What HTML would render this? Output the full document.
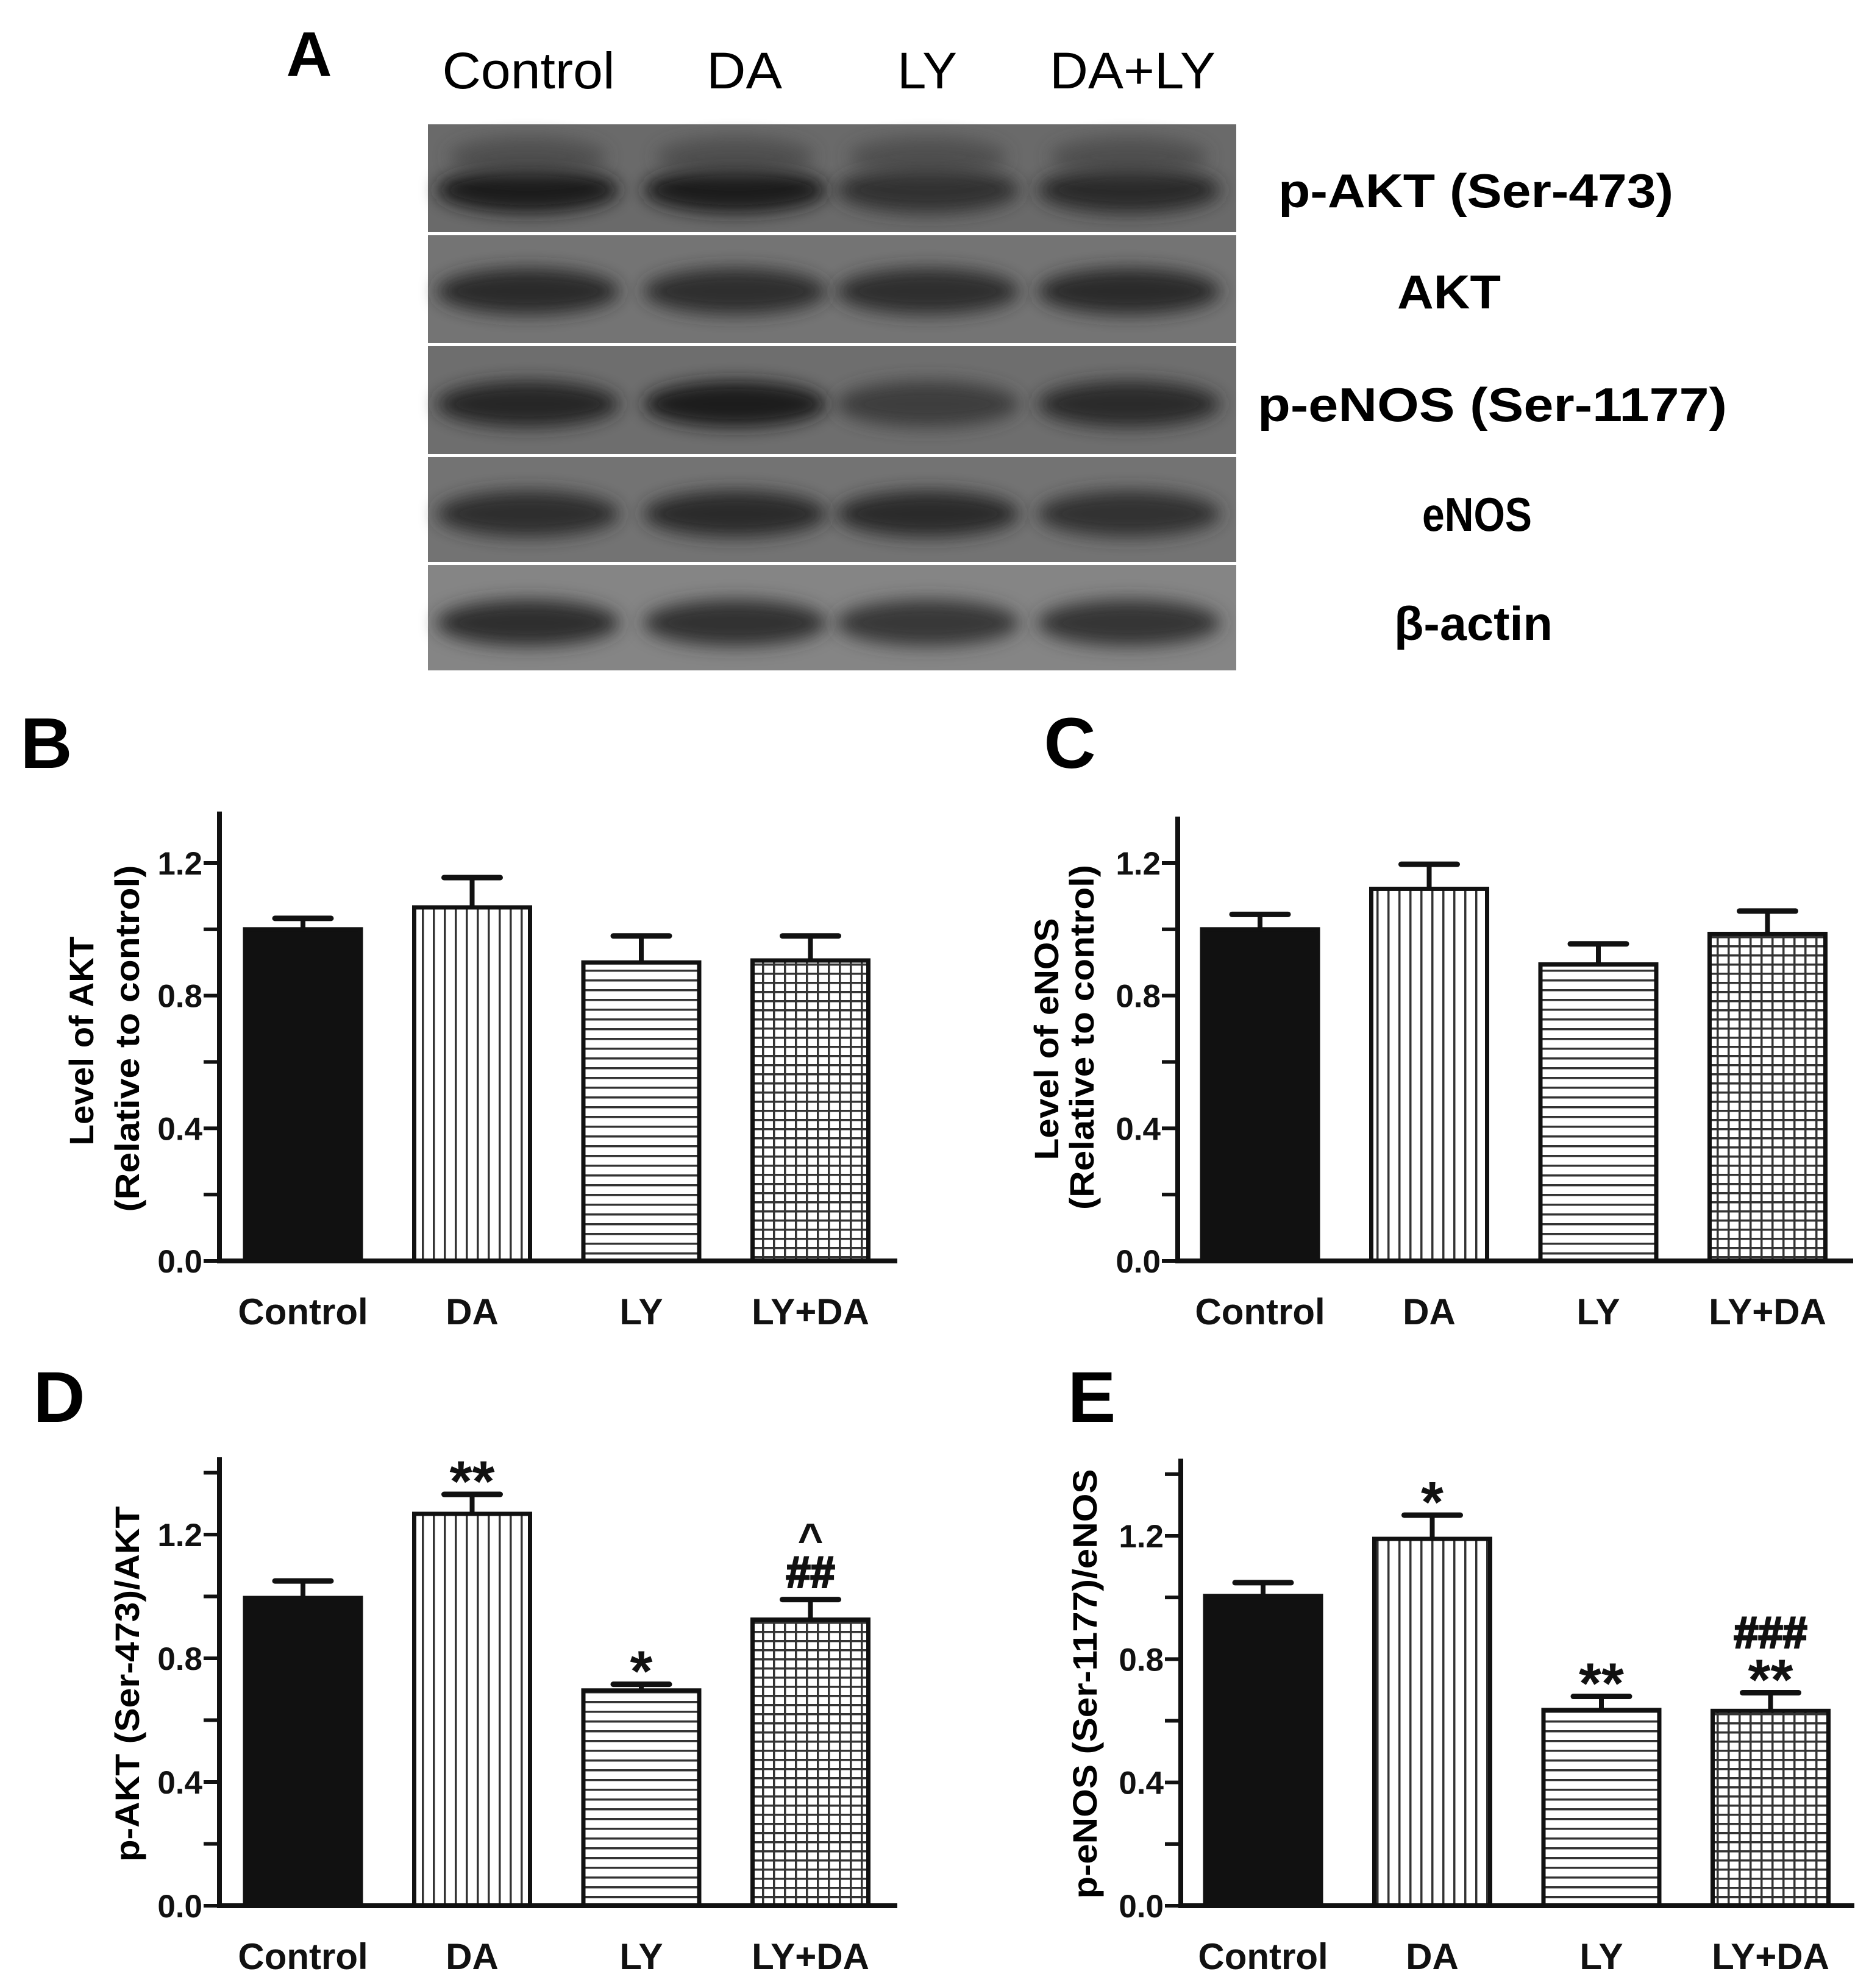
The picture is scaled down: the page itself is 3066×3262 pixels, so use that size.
<!DOCTYPE html>
<html><head><meta charset="utf-8"><style>
html,body{margin:0;padding:0;background:#fff;}
svg{display:block;}
text{font-family:"Liberation Sans",Arial,sans-serif;}
</style></head><body>
<svg id="fig" xmlns="http://www.w3.org/2000/svg" width="3066" height="3262" viewBox="0 0 3066 3262">
<defs>
<filter id="blur" x="-30%" y="-60%" width="160%" height="220%"><feGaussianBlur stdDeviation="14"/></filter>
<pattern id="vert" patternUnits="userSpaceOnUse" width="18" height="18"><rect width="18" height="18" fill="#fff"/><rect x="8" width="3.5" height="18" fill="#333"/></pattern>
<pattern id="horiz" patternUnits="userSpaceOnUse" width="16" height="16"><rect width="16" height="16" fill="#fff"/><rect y="7" width="16" height="3.5" fill="#333"/></pattern>
<pattern id="grid" patternUnits="userSpaceOnUse" width="18" height="15"><rect width="18" height="15" fill="#fff"/><rect x="8" width="3.5" height="15" fill="#333"/><rect y="6" width="18" height="3.5" fill="#333"/></pattern>
</defs>
<g id="blot"></g>
<g id="charts"></g>
</svg>
<script>
const categories = ['Control','DA','LY','LY+DA'];
const aktVals = [1.0, 1.066, 0.90, 0.906];
const aktErr = [0.033, 0.09, 0.08, 0.074];
const enosVals = [1.0, 1.122, 0.894, 0.986];
const enosErr = [0.045, 0.074, 0.062, 0.069];
const paktVals = [0.995, 1.267, 0.696, 0.925];
const paktErr = [0.055, 0.063, 0.02, 0.065];
const penosVals = [1.005, 1.19, 0.635, 0.632];
const penosErr = [0.043, 0.077, 0.044, 0.059];
const paktAnn = [[], ['**'], ['*'], ['##','^']];
const penosAnn = [[], ['*'], ['**'], ['**','###']];
const tickLabels = ['0.0','0.4','0.8','1.2'];
const tickValues = [0, 0.4, 0.8, 1.2];
const blotLanes = ['Control','DA','LY','DA+LY'];
const blotRows = ['p-AKT (Ser-473)','AKT','p-eNOS (Ser-1177)','eNOS','β-actin'];

const NS='http://www.w3.org/2000/svg';
const svg=document.getElementById('fig');
function mk(tag, attrs, parent){const e=document.createElementNS(NS,tag);for(const k in attrs)e.setAttribute(k,attrs[k]);(parent||svg).appendChild(e);return e;}

const blot=document.getElementById('blot');
const t=mk('text',{x:507,y:125,'font-size':104,'font-weight':'bold','text-anchor':'middle'},blot);t.textContent='A';


const laneX=[866,1206,1522,1852];
const laneLblX=[867,1221,1521,1858];
const laneLblW=[283,124,98,272];
blotLanes.forEach((l,i)=>{const e=mk('text',{x:laneLblX[i],y:145,'font-size':84,'text-anchor':'middle',textLength:laneLblW[i],lengthAdjust:'spacingAndGlyphs'},blot);e.textContent=l;

});
const strips=[[204,381],[386,563],[568,745],[750,922],[927,1100]];
const stripBg=['#6a6a6a','#747474','#6e6e6e','#737373','#858585'];
const bandY=[312,478,663,843,1022];
const bandDark=[['#1e1e1e','#1c1c1c','#333','#2a2a2a'],['#2a2a2a','#2e2e2e','#2e2e2e','#2c2c2c'],['#252525','#1e1e1e','#3c3c3c','#2a2a2a'],['#2e2e2e','#2a2a2a','#2a2a2a','#333'],['#2e2e2e','#333','#383838','#363636']];
const rowLblX=[2421,2377,2448,2423,2417];
const rowLblW=[648,170,770,180,260];
strips.forEach((s,r)=>{
  const g=mk('g',{},blot);
  
  
  mk('rect',{x:702,y:s[0],width:1326,height:s[1]-s[0],fill:stripBg[r]},g);
  laneX.forEach((x,i)=>{
    mk('ellipse',{cx:x,cy:bandY[r],rx:150,ry:38,fill:bandDark[r][i],filter:'url(#blur)'},g);
    if(r===0) mk('ellipse',{cx:x,cy:bandY[r]-55,rx:130,ry:32,fill:'#444',filter:'url(#blur)',opacity:0.7},g);
  });
  const e=mk('text',{x:rowLblX[r],y:bandY[r]+28,'font-size':78,'font-weight':'bold','text-anchor':'middle',textLength:rowLblW[r],lengthAdjust:'spacingAndGlyphs'},blot);
  e.textContent=blotRows[r];
  
  
});

const fills=['#111','url(#vert)','url(#horiz)','url(#grid)'];
function panel(o){
  const g=mk('g',{},document.getElementById('charts'));
  
  
  const unit=(o.base-o.y12)/1.2;
  const Y=v=>o.base-v*unit;
  const X=i=>o.ax+o.off+i*277.5;
  const bw=190;
  const lt=mk('text',{x:o.lx,y:o.ly,'font-size':118,'font-weight':'bold','text-anchor':'middle'},g);lt.textContent=o.letter;
  
  
  o.vals.forEach((v,i)=>{
    const x=X(i);
    const eb=mk('g',{},g);
    
    
    mk('line',{x1:x+bw/2,x2:x+bw/2,y1:Y(v),y2:Y(v+o.err[i]),stroke:'#111','stroke-width':8},eb);
    mk('line',{x1:x+bw/2-46,x2:x+bw/2+46,y1:Y(v+o.err[i]),y2:Y(v+o.err[i]),stroke:'#111','stroke-width':9,'stroke-linecap':'round'},eb);
    const b=mk('rect',{x:x,y:Y(v),width:bw,height:Y(0)-Y(v),fill:fills[i],stroke:'#111','stroke-width':7},g);
    
    
    const c=mk('text',{x:x+bw/2,y:o.base+104,'font-size':60,'font-weight':'bold','text-anchor':'middle',fill:'#111'},g);
    c.textContent=categories[i];
    
    
    if(o.ann){
      let cy=Y(v+o.err[i])-46;
      o.ann[i].forEach(s=>{
        const ch=s[0];
        const fs=ch==='*'?95:(ch==='#'?72:72);
        const k=ch==='*'?0.6:(ch==='#'?0.36:0.55);
        const at={x:x+bw/2,y:cy+k*fs,'font-size':fs,'font-weight':'bold','text-anchor':'middle',fill:'#111'};
        if(ch==='#'){at.stroke='#111';at['stroke-width']=3;}
        const a=mk('text',at,g);
        a.textContent=s;
        
        
        cy-= (ch==='#'?(s==='##'?68:56):54);
      });
    }
  });
  const ya=mk('line',{x1:o.ax,x2:o.ax,y1:Y(o.top),y2:o.base+4,stroke:'#111','stroke-width':8},g);
  
  
  const xa=mk('line',{x1:o.ax-4,x2:o.xend,y1:o.base,y2:o.base,stroke:'#111','stroke-width':8},g);
  
  
  for(let v=0.2;v<=o.top+0.001;v+=0.4){mk('line',{x1:o.ax-26,x2:o.ax,y1:Y(v),y2:Y(v),stroke:'#111','stroke-width':6},g);}
  tickValues.forEach((v,i)=>{
    mk('line',{x1:o.ax-26,x2:o.ax,y1:Y(v),y2:Y(v),stroke:'#111','stroke-width':6},g);
    const tl=mk('text',{x:o.ax-28,y:Y(v)+19,'font-size':53,'font-weight':'bold','text-anchor':'end',fill:'#111'},g);
    tl.textContent=tickLabels[i];
    
    
  });
  o.titles.forEach(tt=>{
    const e=mk('text',{x:0,y:0,'font-size':56,'font-weight':'bold','text-anchor':'middle',textLength:tt.len,lengthAdjust:'spacingAndGlyphs',transform:`translate(${tt.x+20},${tt.cy}) rotate(-90)`},g);
    e.textContent=tt.t;
    
    
  });
}
panel({name:'chart-b-akt',letter:'B',lx:76,ly:1260,ax:360,off:42,base:2069,y12:1416,top:1.355,xend:1472,vals:aktVals,err:aktErr,
  titles:[{t:'Level of AKT',x:133,cy:1708,len:343},{t:'(Relative to control)',x:208,cy:1704,len:569}]});
panel({name:'chart-c-enos',letter:'C',lx:1755,ly:1260,ax:1932,off:40,base:2069,y12:1416,top:1.34,xend:3040,vals:enosVals,err:enosErr,
  titles:[{t:'Level of eNOS',x:1716,cy:1705,len:397},{t:'(Relative to control)',x:1774,cy:1702,len:566}]});
panel({name:'chart-d-pakt',letter:'D',lx:97,ly:2333,ax:360,off:42,base:3127,y12:2518,top:1.45,xend:1472,vals:paktVals,err:paktErr,ann:paktAnn,
  titles:[{t:'p-AKT (Ser-473)/AKT',x:208,cy:2763,len:583}]});
panel({name:'chart-e-penos',letter:'E',lx:1791,ly:2333,ax:1937,off:40,base:3127,y12:2520,top:1.45,xend:3042,vals:penosVals,err:penosErr,ann:penosAnn,
  titles:[{t:'p-eNOS (Ser-1177)/eNOS',x:1779,cy:2763,len:705}]});
</script>
</body></html>
